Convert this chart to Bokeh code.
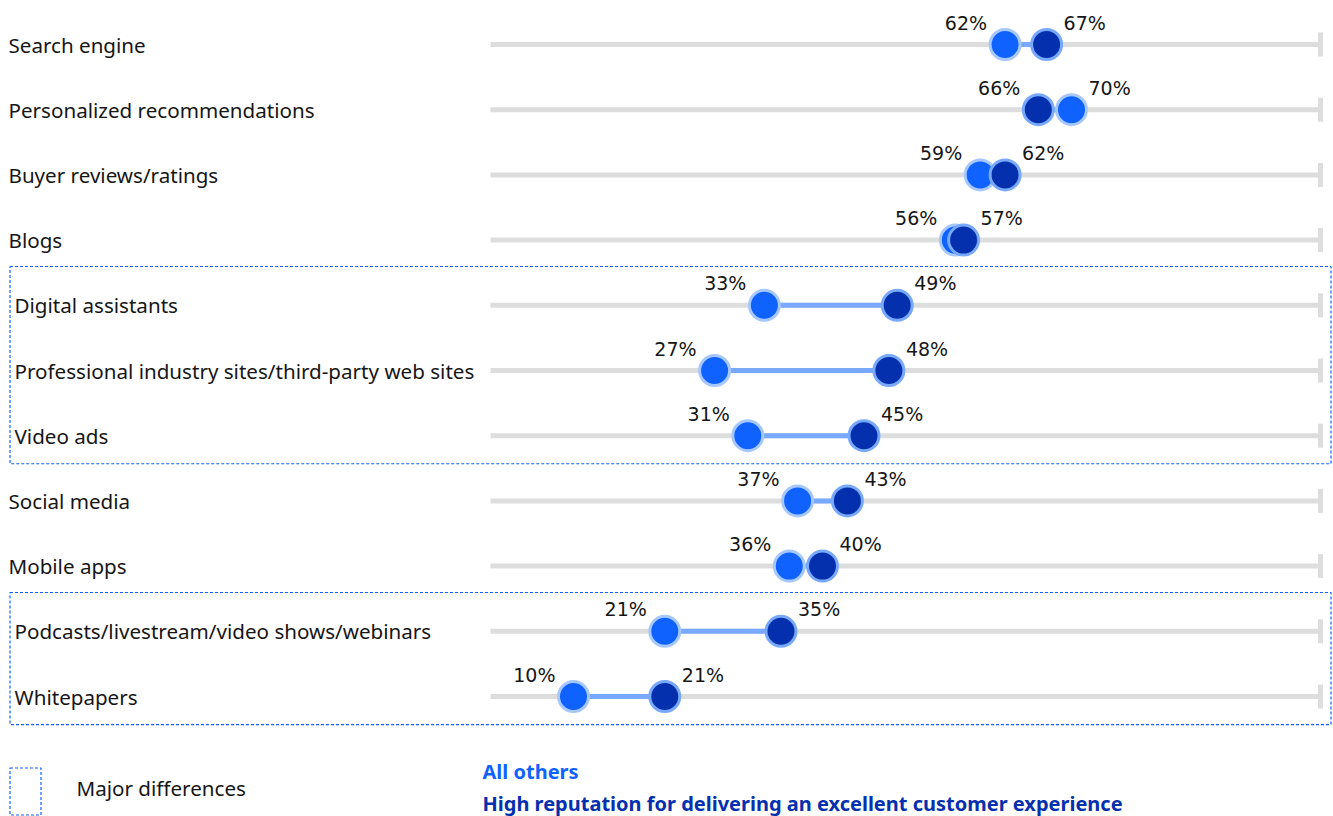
from bokeh.plotting import figure
from bokeh.models import Range1d
from bokeh.core.properties import value
from bokeh.embed import file_html
from bokeh.resources import INLINE

categories = ["Search engine", "Personalized recommendations", "Buyer reviews/ratings", "Blogs",
              "Digital assistants", "Professional industry sites/third-party web sites", "Video ads",
              "Social media", "Mobile apps", "Podcasts/livestream/video shows/webinars", "Whitepapers"]
all_others = [62, 70, 59, 56, 33, 27, 31, 37, 36, 21, 10]
high_rep = [67, 66, 62, 57, 49, 48, 45, 43, 40, 35, 21]
major = [False, False, False, False, True, True, True, False, False, True, True]
groups = [(4, 6), (9, 10)]

FONT = "Noto Sans"
NUMFONT = "DejaVu Sans"
LIGHT = "#0f62fe"
LIGHT_LINE = "#a6c8ff"
DARK = "#0530ad"
DARK_LINE = "#78a9ff"
TXT = "#161616"

PX = 8.3       # pixels per percentage point
X0 = 490       # pixel of 0%
ROW0 = 44      # pixel of first row
ROWH = 65.2    # row spacing
W, H = 1333, 816

def dx(px):
    return (px - X0) / PX

def dy(px):
    return (px - ROW0) / ROWH

p = figure(width=W, height=H, x_range=Range1d(dx(0), dx(W)), y_range=Range1d(dy(H), dy(0)),
           output_backend="svg", toolbar_location=None, min_border=0)
p.axis.visible = False
p.grid.visible = False
p.outline_line_color = None
p.background_fill_color = "white"

n = len(categories)
ys = list(range(n))

# tracks
p.segment(x0=[0] * n, x1=[100] * n, y0=ys, y1=ys, line_color="#dddddd", line_width=5)
p.segment(x0=[100] * n, x1=[100] * n, y0=[y - 12 / ROWH for y in ys], y1=[y + 12 / ROWH for y in ys],
          line_color="#dddddd", line_width=5)

# connectors
p.segment(x0=all_others, x1=high_rep, y0=ys, y1=ys, line_color="#78a9ff", line_width=5)

# dots
p.scatter(all_others, ys, size=30, fill_color=LIGHT, line_color=LIGHT_LINE, line_width=3)
p.scatter(high_rep, ys, size=30, fill_color=DARK, line_color=DARK_LINE, line_width=3)

# value labels
lo_x, lo_t, hi_x, hi_t = [], [], [], []
for a, b in zip(all_others, high_rep):
    lo, hi = min(a, b), max(a, b)
    lo_x.append(lo); lo_t.append(f"{lo}%")
    hi_x.append(hi); hi_t.append(f"{hi}%")
p.text(lo_x, ys, text=lo_t, x_offset=-18, y_offset=-22, text_align="right", text_baseline="middle",
       text_font=value(NUMFONT), text_font_size="19px", text_color=TXT)
p.text(hi_x, ys, text=hi_t, x_offset=17, y_offset=-22, text_align="left", text_baseline="middle",
       text_font=value(NUMFONT), text_font_size="19px", text_color=TXT)

# category labels
lab_x = [dx(14) if m else dx(8) for m in major]
p.text(lab_x, ys, text=categories, text_align="left", text_baseline="middle",
       text_font=value(FONT), text_font_size="20.6px", text_color=TXT)

# dashed group boxes
for a, b in groups:
    p.quad(left=dx(9.5), right=dx(1330.5), top=a - 0.595, bottom=b + 0.43,
           fill_alpha=0, line_color=LIGHT, line_width=1.2, line_dash="3 2")

# legend
p.quad(left=dx(9.5), right=dx(40.5), top=dy(767.5), bottom=dy(814.5), fill_alpha=0,
       line_color=LIGHT, line_width=1.2, line_dash="3 2")
p.text([dx(76)], [dy(787)], text=["Major differences"], text_align="left", text_baseline="middle",
       text_font=value(FONT), text_font_size="20.6px", text_color=TXT)
p.text([dx(482)], [dy(771)], text=["All others"], text_align="left", text_baseline="middle",
       text_font=value(FONT), text_font_size="20px", text_font_style="bold", text_color=LIGHT)
p.text([dx(482)], [dy(803)], text=["High reputation for delivering an excellent customer experience"],
       text_align="left", text_baseline="middle",
       text_font=value(FONT), text_font_size="20px", text_font_style="bold", text_color=DARK)

open("out.html", "w").write(file_html(p, INLINE))
